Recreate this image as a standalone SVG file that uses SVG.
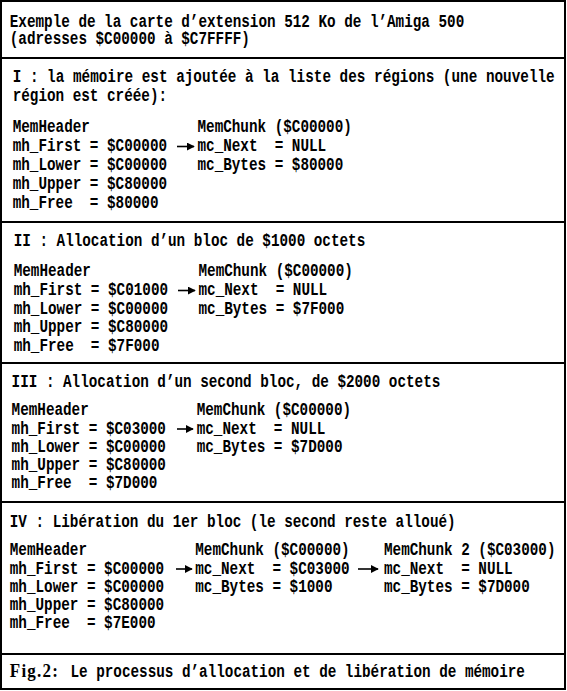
<svg xmlns="http://www.w3.org/2000/svg" width="567" height="691" viewBox="0 0 567 691" xml:space="preserve">
<style>
.t{font-family:"Liberation Mono","DejaVu Sans Mono",monospace;font-weight:bold;font-size:14.3px;fill:#000;white-space:pre}
.fig{font-family:"Liberation Serif","DejaVu Serif",serif;font-weight:bold;font-size:17px;fill:#000;letter-spacing:1.2px}
.frame{fill:#fff;stroke:#000;stroke-width:2}
.div{stroke:#000;stroke-width:2}
.arr{stroke:#000;stroke-width:1.6;fill:none;marker-end:url(#ah)}
</style>
<defs>
<marker id="ah" viewBox="0 0 10 10" refX="9" refY="5" markerWidth="5" markerHeight="5" markerUnits="strokeWidth" orient="auto">
<path d="M0,0 L10,5 L0,10 z" fill="#000"/>
</marker>
</defs>
<rect x="0" y="0" width="567" height="691" fill="#fff"/>
<g id="frame">
<rect class="frame" x="1" y="1" width="564" height="688"/>
<line class="div" x1="1" y1="58" x2="565" y2="58"/>
<line class="div" x1="1" y1="222" x2="565" y2="222"/>
<line class="div" x1="1" y1="363" x2="565" y2="363"/>
<line class="div" x1="1" y1="502" x2="565" y2="502"/>
<line class="div" x1="1" y1="654" x2="565" y2="654"/>
</g>
<g id="title">
<text class="t" transform="matrix(1,0,0,1.25,9.8,27)">Exemple de la carte d’extension 512 Ko de l’Amiga 500</text>
<text class="t" transform="matrix(1,0,0,1.25,9.8,44)">(adresses $C00000 à $C7FFFF)</text>
</g>
<g id="section-1">
<text class="t" transform="matrix(1,0,0,1.25,12.7,82)" textLength="542" lengthAdjust="spacing">I : la mémoire est ajoutée à la liste des régions (une nouvelle</text>
<text class="t" transform="matrix(1,0,0,1.25,12.7,101)">région est créée):</text>
<g id="memheader-1">
<text class="t" transform="matrix(1,0,0,1.25,12.7,132)">MemHeader</text>
<text class="t" transform="matrix(1,0,0,1.25,12.7,151)">mh_First = $C00000</text>
<text class="t" transform="matrix(1,0,0,1.25,12.7,170)">mh_Lower = $C00000</text>
<text class="t" transform="matrix(1,0,0,1.25,12.7,189)">mh_Upper = $C80000</text>
<text class="t" transform="matrix(1,0,0,1.25,12.7,208)">mh_Free  = $80000</text>
</g>
<g id="memchunk-1">
<text class="t" transform="matrix(1,0,0,1.25,197.5,132)">MemChunk ($C00000)</text>
<text class="t" transform="matrix(1,0,0,1.25,197.5,151)">mc_Next  = NULL</text>
<text class="t" transform="matrix(1,0,0,1.25,197.5,170)">mc_Bytes = $80000</text>
</g>
</g>
<g id="section-2">
<text class="t" transform="matrix(1,0,0,1.25,13.7,246)">II : Allocation d’un bloc de $1000 octets</text>
<g id="memheader-2">
<text class="t" transform="matrix(1,0,0,1.25,13.7,276)">MemHeader</text>
<text class="t" transform="matrix(1,0,0,1.25,13.7,295)">mh_First = $C01000</text>
<text class="t" transform="matrix(1,0,0,1.25,13.7,313.5)">mh_Lower = $C00000</text>
<text class="t" transform="matrix(1,0,0,1.25,13.7,332)">mh_Upper = $C80000</text>
<text class="t" transform="matrix(1,0,0,1.25,13.7,350.5)">mh_Free  = $7F000</text>
</g>
<g id="memchunk-2">
<text class="t" transform="matrix(1,0,0,1.25,198.5,276)">MemChunk ($C00000)</text>
<text class="t" transform="matrix(1,0,0,1.25,198.5,295)">mc_Next  = NULL</text>
<text class="t" transform="matrix(1,0,0,1.25,198.5,313.5)">mc_Bytes = $7F000</text>
</g>
</g>
<g id="section-3">
<text class="t" transform="matrix(1,0,0,1.25,11.6,387)">III : Allocation d’un second bloc, de $2000 octets</text>
<g id="memheader-3">
<text class="t" transform="matrix(1,0,0,1.25,11.6,415)">MemHeader</text>
<text class="t" transform="matrix(1,0,0,1.25,11.6,433.5)">mh_First = $C03000</text>
<text class="t" transform="matrix(1,0,0,1.25,11.6,452)">mh_Lower = $C00000</text>
<text class="t" transform="matrix(1,0,0,1.25,11.6,470)">mh_Upper = $C80000</text>
<text class="t" transform="matrix(1,0,0,1.25,11.6,488)">mh_Free  = $7D000</text>
</g>
<g id="memchunk-3">
<text class="t" transform="matrix(1,0,0,1.25,196.7,415)">MemChunk ($C00000)</text>
<text class="t" transform="matrix(1,0,0,1.25,196.7,433.5)">mc_Next  = NULL</text>
<text class="t" transform="matrix(1,0,0,1.25,196.7,452)">mc_Bytes = $7D000</text>
</g>
</g>
<g id="section-4">
<text class="t" transform="matrix(1,0,0,1.25,9.8,527)">IV : Libération du 1er bloc (le second reste alloué)</text>
<g id="memheader-4">
<text class="t" transform="matrix(1,0,0,1.25,9.8,555)">MemHeader</text>
<text class="t" transform="matrix(1,0,0,1.25,9.8,573.5)">mh_First = $C00000</text>
<text class="t" transform="matrix(1,0,0,1.25,9.8,592)">mh_Lower = $C00000</text>
<text class="t" transform="matrix(1,0,0,1.25,9.8,610)">mh_Upper = $C80000</text>
<text class="t" transform="matrix(1,0,0,1.25,9.8,628)">mh_Free  = $7E000</text>
</g>
<g id="memchunk-4a">
<text class="t" transform="matrix(1,0,0,1.25,195.3,555)">MemChunk ($C00000)</text>
<text class="t" transform="matrix(1,0,0,1.25,195.3,573.5)">mc_Next  = $C03000</text>
<text class="t" transform="matrix(1,0,0,1.25,195.3,592)">mc_Bytes = $1000</text>
</g>
<g id="memchunk-4b">
<text class="t" transform="matrix(1,0,0,1.25,384,555)">MemChunk 2 ($C03000)</text>
<text class="t" transform="matrix(1,0,0,1.25,384,573.5)">mc_Next  = NULL</text>
<text class="t" transform="matrix(1,0,0,1.25,384,592)">mc_Bytes = $7D000</text>
</g>
</g>
<g id="caption">
<text class="fig" transform="matrix(1,0,0,1.1,9.8,677)">Fig.2:</text>
<text class="t" transform="matrix(1,0,0,1.25,70.5,677)">Le processus d’allocation et de libération de mémoire</text>
</g>
<g id="connectors">
<line class="arr" x1="177" y1="146.5" x2="194" y2="146.5"/>
<line class="arr" x1="178" y1="290.5" x2="195" y2="290.5"/>
<line class="arr" x1="177" y1="429" x2="193" y2="429"/>
<line class="arr" x1="176" y1="569" x2="192" y2="569"/>
<line class="arr" x1="358" y1="569" x2="378" y2="569"/>
</g>
</svg>
